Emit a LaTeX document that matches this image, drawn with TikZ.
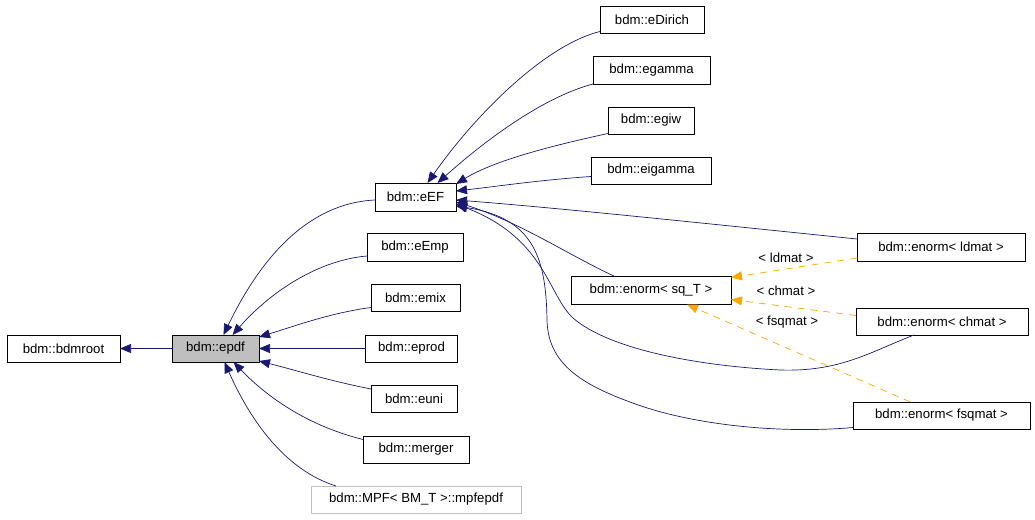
\documentclass[tikz,border=0pt]{standalone}
\usepackage{fontspec}
\setmainfont{Liberation Sans}
\usetikzlibrary{arrows.meta,calc}
\definecolor{edgeblue}{HTML}{191970}
\definecolor{tmplorange}{HTML}{FFA500}
\definecolor{boxgray}{HTML}{BFBFBF}
\tikzset{
  cls/.style={draw=black, line width=0.8pt, rectangle, inner sep=0pt, outer sep=0pt,
    minimum height=27pt, font=\fontsize{13.2}{15}\selectfont, align=center},
  inh/.style={draw=edgeblue, line width=0.7pt, -{Triangle[length=11pt,width=9pt]}},
  tmpl/.style={draw=tmplorange, line width=0.7pt, dash pattern=on 7pt off 6pt,
    -{Triangle[length=11pt,width=9pt]}},
  lbl/.style={inner sep=0pt, font=\fontsize{13.2}{15}\selectfont}
}
\begin{document}
\begin{tikzpicture}[x=1pt,y=-1pt]
\useasboundingbox (0,0) rectangle (1035,519);
% nodes
\node[cls, minimum width=113pt] (bdmroot) at (63.5,348.5) {bdm::bdmroot};
\node[cls, minimum width=87pt, fill=boxgray] (epdf) at (215.5,348.5) {bdm::epdf};
\node[cls, minimum width=81pt, minimum height=28pt] (eEF) at (415.5,197) {bdm::eEF};
\node[cls, minimum width=96pt, minimum height=28pt] (eEmp) at (415,247) {bdm::eEmp};
\node[cls, minimum width=89pt] (emix) at (415.5,297.5) {bdm::emix};
\node[cls, minimum width=92pt] (eprod) at (411.5,348.5) {bdm::eprod};
\node[cls, minimum width=86pt] (euni) at (414,399) {bdm::euni};
\node[cls, minimum width=106pt] (merger) at (416,449.5) {bdm::merger};
\node[cls, minimum width=210pt, draw=boxgray] (mpfepdf) at (416,499.5) {bdm::MPF< BM\_T >::mpfepdf};
\node[cls, minimum width=104pt] (eDirich) at (652,19.5) {bdm::eDirich};
\node[cls, minimum width=117pt, minimum height=28pt] (egamma) at (651.5,70) {bdm::egamma};
\node[cls, minimum width=86pt] (egiw) at (651,120.5) {bdm::egiw};
\node[cls, minimum width=120pt] (eigamma) at (651,170.5) {bdm::eigamma};
\node[cls, minimum width=160pt, minimum height=28pt] (sqT) at (651,290.5) {bdm::enorm< sq\_T >};
\node[cls, minimum width=168pt, minimum height=28pt] (ldmat) at (941,247) {bdm::enorm< ldmat >};
\node[cls, minimum width=172pt] (chmat) at (942,321.5) {bdm::enorm< chmat >};
\node[cls, minimum width=177pt] (fsqmat) at (941.5,415.5) {bdm::enorm< fsqmat >};
% edges to bdmroot / epdf
\draw[inh] (epdf.west) -- (bdmroot.east);
\draw[inh] ($(eEF.west)+(0,3)$) .. controls (310,203) and (262,255) .. ($(epdf.north)+(8,0)$);
\draw[inh] ($(eEmp.west)+(0,9)$) .. controls (320,260) and (272,290) .. ($(epdf.north)+(17,0)$);
\draw[inh] ($(emix.west)+(0,10)$) .. controls (330,313) and (295,326) .. ($(epdf.north east)+(0,2)$);
\draw[inh] (eprod.west) -- (epdf.east);
\draw[inh] ($(euni.west)+(0,-10)$) .. controls (330,381) and (295,370) .. ($(epdf.south east)+(0,-1)$);
\draw[inh] ($(merger.west)+(0,-10)$) .. controls (305,425) and (265,395) .. ($(epdf.south)+(18,0)$);
\draw[inh] ($(mpfepdf.north west)+(25,0)$) .. controls (285,470) and (250,420) .. ($(epdf.south)+(9,0)$);
% edges to eEF
\draw[inh] ($(eDirich.west)+(0,12)$) .. controls (545,45) and (475,115) .. ($(eEF.north)+(12,0)$);
\draw[inh] ($(egamma.west)+(0,14)$) .. controls (540,98) and (480,145) .. ($(eEF.north)+(22,0)$);
\draw[inh] ($(egiw.west)+(0,13)$) .. controls (555,145) and (495,160) .. ($(eEF.north east)+(0,1)$);
\draw[inh] ($(eigamma.west)+(0,6)$) .. controls (540,180) and (500,186) .. ($(eEF.east)+(0,-6)$);
\draw[inh] ($(ldmat.west)+(0,-8)$) .. controls (720,225) and (560,208) .. ($(eEF.east)+(0,3)$);
\draw[inh] ($(sqT.north)+(-36,0)$) .. controls (570,256) and (520,222) .. ($(eEF.east)+(0,5)$);
\draw[inh] ($(chmat.south)+(-28,0)$) .. controls (870,352) and (840,372) .. (780,370)
  .. controls (700,366) and (610,350) .. (573,318)
  .. controls (548,295) and (545,238) .. ($(eEF.east)+(0,7)$);
\draw[inh] ($(fsqmat.west)+(0,12)$) .. controls (780,434) and (690,425) .. (630,402)
  .. controls (575,382) and (548,360) .. (547,320)
  .. controls (546,260) and (535,218) .. ($(eEF.east)+(0,9)$);
% template edges
\draw[tmpl] ($(ldmat.west)+(0,11)$) -- ($(sqT.north east)+(0,1)$);
\draw[tmpl] ($(chmat.west)+(0,-6)$) -- ($(sqT.east)+(0,9)$);
\draw[tmpl] ($(fsqmat.north)+(-31,0)$) -- ($(sqT.south)+(36,0)$);
\node[lbl] (lldmat) at (786,258) {< ldmat >};
\node[lbl] (lchmat) at (786,291) {< chmat >};
\node[lbl] (lfsqmat) at (787,322) {< fsqmat >};
\end{tikzpicture}
\end{document}
